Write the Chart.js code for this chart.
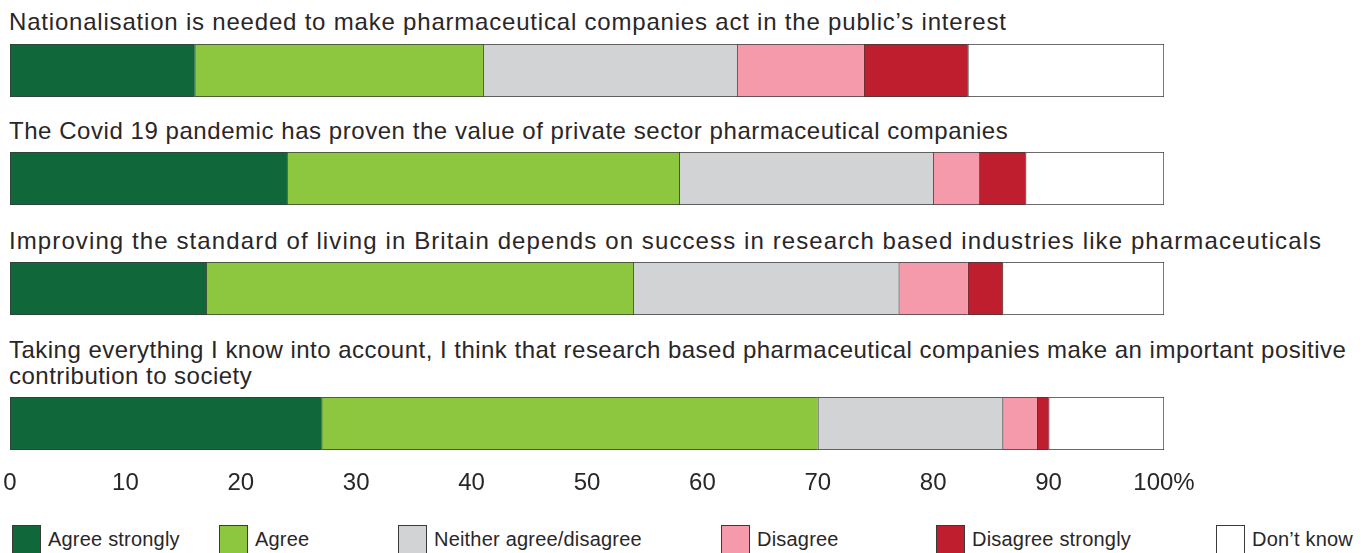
<!DOCTYPE html>
<html>
<head>
<meta charset="utf-8">
<script src="https://cdn.jsdelivr.net/npm/chart.js@4/dist/chart.umd.min.js"></script>
<style>
  html, body { margin: 0; padding: 0; background: #fff; }
  body { width: 1362px; height: 553px; position: relative; overflow: hidden;
         font-family: "Liberation Sans", Arial, sans-serif; color: #2a2627; }
  .q { position: absolute; left: 9px; font-size: 24px; line-height: 26px; white-space: nowrap; }
  canvas { position: absolute; left: 0; }
  .key { position: absolute; top: 525px; display: flex; align-items: flex-start; font-size: 20px; line-height: 29px; letter-spacing: 0.2px; }
  .key i { display: block; width: 29px; height: 30px; box-sizing: border-box; border: 1px solid #3a3a3a; margin-right: 7px; }
</style>
</head>
<body>
<div id="root"></div>
<script>
// Survey statements, one stacked bar each
const STATEMENTS = [
  "Nationalisation is needed to make pharmaceutical companies act in the public’s interest",
  "The Covid 19 pandemic has proven the value of private sector pharmaceutical companies",
  "Improving the standard of living in Britain depends on success in research based industries like pharmaceuticals",
  "Taking everything I know into account, I think that research based pharmaceutical companies make an important positive\ncontribution to society",
];
const SERIES = ["Agree strongly", "Agree", "Neither agree/disagree", "Disagree", "Disagree strongly", "Don’t know"];

// % of respondents per statement
const agreeStrongly    = [16, 24, 17, 27];
const agree            = [25, 34, 37, 43];
const neither          = [22, 22, 23, 16];
const disagree         = [11,  4,  6,  3];
const disagreeStrongly = [ 9,  4,  3,  1];
const dontKnow         = [17, 12, 14, 10];
const VALUES = [agreeStrongly, agree, neither, disagree, disagreeStrongly, dontKnow];

const COLORS = ["#10673a", "#8dc63f", "#d1d3d4", "#f49aab", "#be1e2d", "#ffffff"];
const EDGE = "#3a3a3a";
const FONT = "'Liberation Sans', Arial, sans-serif";

// layout of the page
const TITLE_TOP = [9, 118, 228, 337];
const TITLE_TRACKING = [0.8, 0.55, 1.1, 0.48];
const BAR_TOP = [44, 152, 262, 397];
const BAR_H = 53;
const AXIS_H = 52;
const KEY_LEFT = [12, 219, 398, 721, 936, 1216];

const root = document.getElementById("root");

function addChart(i, withAxis) {
  const t = document.createElement("div");
  t.className = "q";
  t.style.top = TITLE_TOP[i] + "px";
  t.style.letterSpacing = TITLE_TRACKING[i] + "px";
  t.innerHTML = STATEMENTS[i].split("\n").join("<br>");
  root.appendChild(t);

  const cv = document.createElement("canvas");
  cv.width = 1362;
  cv.height = BAR_H + (withAxis ? AXIS_H : 0);
  cv.style.top = BAR_TOP[i] + "px";
  root.appendChild(cv);

  const last = SERIES.length - 1;
  const x = {
    stacked: true, min: 0, max: 100,
    display: withAxis,
    grid: { display: false, drawTicks: false },
    border: { display: false },
    ticks: {
      stepSize: 10, padding: 19, color: "#2a2627",
      font: { family: FONT, size: 24 },
      callback: (v) => v === 100 ? "100%" : v,
    },
  };
  if (withAxis) {
    // fixed axis height; keep tick labels from pushing the plot sideways
    x.afterFit = (s) => { s.height = AXIS_H; s.paddingLeft = 0; s.paddingRight = 0; };
  }

  new Chart(cv, {
    type: "bar",
    data: {
      labels: [""],
      datasets: SERIES.map((name, k) => ({
        label: name,
        data: [VALUES[k][i]],
        backgroundColor: COLORS[k],
        borderColor: EDGE,
        borderWidth: { top: 1, bottom: 1, left: 1, right: k === last ? 1 : 0 },
        borderSkipped: false,
        categoryPercentage: 1,
        barPercentage: 1,
      })),
    },
    options: {
      indexAxis: "y",
      responsive: false,
      animation: false,
      layout: { padding: { left: 10, right: 198, top: 0, bottom: 0 } },
      plugins: { legend: { display: false }, tooltip: { enabled: false } },
      scales: { x, y: { stacked: true, display: false } },
    },
  });
}

STATEMENTS.forEach((_, i) => addChart(i, i === STATEMENTS.length - 1));

// colour key along the bottom
SERIES.forEach((name, k) => {
  const d = document.createElement("div");
  d.className = "key";
  d.style.left = KEY_LEFT[k] + "px";
  d.innerHTML = `<i style="background:${COLORS[k]}"></i><span>${name}</span>`;
  root.appendChild(d);
});
</script>
</body>
</html>
